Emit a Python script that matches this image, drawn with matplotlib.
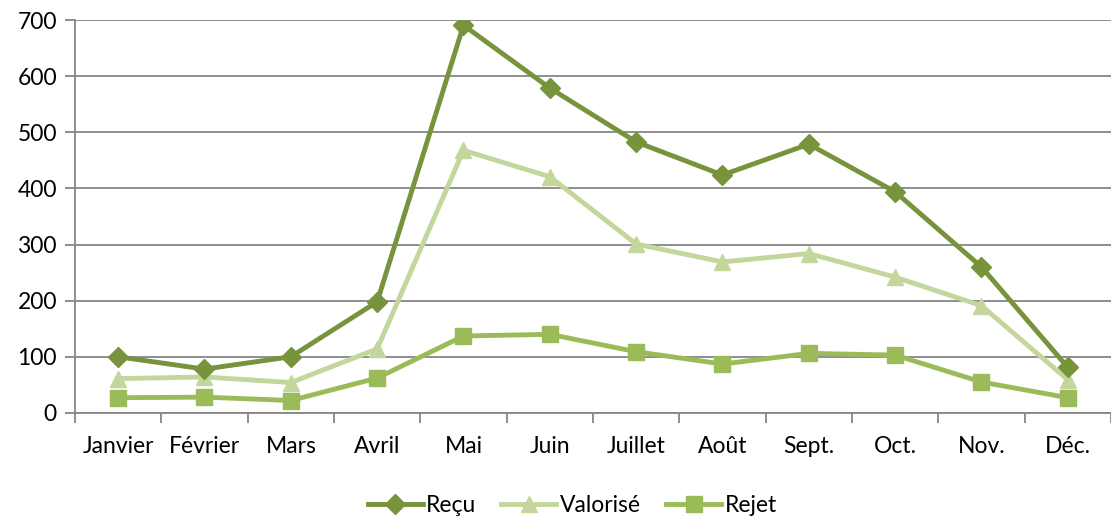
import numpy as np
import matplotlib.pyplot as plt
from matplotlib.ticker import FixedLocator

plt.rcParams['font.family'] = ['Lato', 'DejaVu Sans']

mois = ['Janvier', 'Février', 'Mars', 'Avril', 'Mai', 'Juin', 'Juillet',
        'Août', 'Sept.', 'Oct.', 'Nov.', 'Déc.']
recu = [100, 78, 100, 198, 691, 579, 483, 424, 479, 394, 260, 81]
valorise = [61, 64, 54, 114, 468, 421, 301, 269, 284, 242, 191, 59]
rejet = [27, 28, 22, 62, 137, 140, 109, 87, 106, 103, 55, 27]

grid_col = '#868686'

fig = plt.figure(figsize=(11.11, 5.18), dpi=100)
ax = fig.add_axes([0.0675, 0.203, 0.9325, 0.758])

x = np.arange(len(mois))
ax.plot(x, recu, color='#77933C', lw=3.5, marker='D', ms=10, label='Reçu', zorder=4)
ax.plot(x, valorise, color='#C3D69B', lw=3.5, marker='^', ms=12, label='Valorisé', zorder=3)
ax.plot(x, rejet, color='#9BBB59', lw=3.5, marker='s', ms=12, label='Rejet', zorder=5)

ax.set_ylim(0, 700)
ax.set_xlim(-0.5, len(mois) - 0.5)
ax.set_yticks(range(0, 701, 100))
ax.yaxis.grid(True, color=grid_col, lw=1.3)
ax.set_axisbelow(True)

ax.set_xticks(x)
ax.set_xticklabels(mois)
ax.xaxis.set_minor_locator(FixedLocator(np.arange(-0.5, len(mois), 1.0)))
ax.tick_params(axis='x', which='major', length=0, pad=17, labelsize=16.5)
ax.tick_params(axis='x', which='minor', length=7, color=grid_col, width=1.3)
ax.tick_params(axis='y', length=7, color=grid_col, width=1.3, labelsize=16.5, pad=6)

for s in ['top', 'right']:
    ax.spines[s].set_visible(False)
for s in ['left', 'bottom']:
    ax.spines[s].set_color(grid_col)
    ax.spines[s].set_linewidth(1.3)

fig.legend(loc='lower center', bbox_to_anchor=(0.515, -0.036), ncol=3, frameon=False,
           fontsize=16.5, handlelength=2.4, columnspacing=1.1, handletextpad=0.15)

fig.savefig('out.png', dpi=100)
